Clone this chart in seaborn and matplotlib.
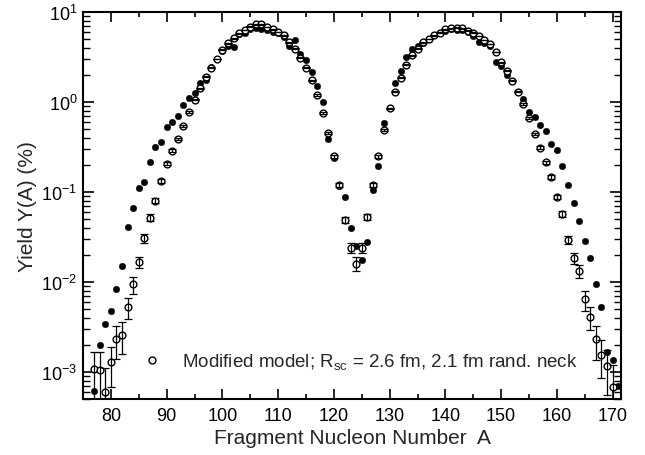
import numpy as np
import pandas as pd
import matplotlib
matplotlib.use("Agg")
import matplotlib.pyplot as plt
from matplotlib.ticker import MultipleLocator, LogLocator, NullFormatter
from matplotlib.lines import Line2D
import seaborn as sns

# Fragment mass numbers
mass_ref = list(range(77, 172))      # filled symbols
mass_mod = list(range(77, 171))      # open symbols (modified model)

# Yields in percent, filled symbols
yield_ref = [
    6.1e-4, 2.0e-3, 3.4e-3, 4.7e-3, 8.3e-3, 0.0151, 0.041, 0.066, 0.11, 0.128,
    0.217, 0.319, 0.362, 0.53, 0.60, 0.69, 0.93, 1.10, 1.25, 1.61,
    1.76, 2.43, 3.0, 3.7, 4.2, 4.1, 5.7, 5.9, 6.5, 6.7,
    6.5, 6.3, 6.0, 5.9, 5.3, 4.2, 4.9, 3.4, 2.9, 2.17,
    1.52, 1.0, 0.39, 0.24, 0.115, 0.089, 0.040, 0.025, 0.0176, 0.028,
    0.105, 0.196, 0.59, 0.85, 1.63, 2.2, 3.2, 3.9, 4.2, 4.5,
    5.0, 5.5, 5.9, 6.2, 6.4, 6.3, 6.3, 6.0, 5.4, 4.7,
    4.5, 4.2, 2.8, 2.5, 2.0, 1.72, 1.30, 1.08, 0.78, 0.68,
    0.55, 0.47, 0.34, 0.29, 0.196, 0.12, 0.076, 0.048, 0.0283, 0.0183,
    0.0095, 0.0052, 0.00166, 0.00137, 6.9e-4,
]

# Yields in percent, modified model (open symbols)
yield_mod = [
    1.08e-3, 1.06e-3, 6.0e-4, 1.28e-3, 2.3e-3, 2.6e-3, 5.3e-3, 9.4e-3, 0.0167, 0.0305,
    0.052, 0.080, 0.134, 0.207, 0.288, 0.388, 0.546, 0.77, 1.06, 1.42,
    1.91, 2.4, 3.0, 3.8, 4.5, 5.1, 5.8, 6.3, 6.9, 7.3,
    7.3, 6.8, 6.4, 6.0, 5.5, 4.6, 3.9, 3.1, 2.4, 1.75,
    1.2, 0.76, 0.45, 0.25, 0.12, 0.049, 0.024, 0.016, 0.024, 0.053,
    0.12, 0.25, 0.49, 0.85, 1.30, 1.85, 2.6, 3.3, 3.9, 4.6,
    5.0, 5.5, 5.9, 6.4, 6.6, 6.7, 6.6, 6.2, 5.9, 5.4,
    4.9, 4.4, 3.6, 2.76, 2.23, 1.72, 1.30, 0.95, 0.66, 0.44,
    0.31, 0.214, 0.146, 0.088, 0.057, 0.0295, 0.0183, 0.0132, 0.0064, 0.0041,
    0.0023, 0.00155, 0.00116, 0.00068,
]

# Statistical uncertainties of the modified model (percent)
err_mod = [
    6.0e-4, 6.0e-4, 5.0e-4, 6.0e-4, 9.0e-4, 1.0e-3, 1.4e-3, 2.0e-3, 2.4e-3, 3.2e-3,
    4.3e-3, 5.3e-3, 6.8e-3, 8.5e-3, 0.010, 0.0117, 0.0138, 0.0164, 0.019, 0.022,
    0.026, 0.029, 0.032, 0.036, 0.040, 0.042, 0.045, 0.047, 0.049, 0.050,
    0.050, 0.049, 0.047, 0.046, 0.044, 0.040, 0.037, 0.033, 0.029, 0.025,
    0.020, 0.0163, 0.0125, 9.4e-3, 6.5e-3, 4.1e-3, 2.9e-3, 2.7e-3, 2.9e-3, 4.3e-3,
    6.5e-3, 9.4e-3, 0.0131, 0.0172, 0.021, 0.025, 0.030, 0.034, 0.037, 0.040,
    0.042, 0.044, 0.045, 0.047, 0.048, 0.048, 0.048, 0.047, 0.045, 0.043,
    0.041, 0.039, 0.035, 0.031, 0.028, 0.0245, 0.021, 0.018, 0.015, 0.0124,
    0.0104, 8.7e-3, 7.1e-3, 5.5e-3, 4.5e-3, 3.2e-3, 2.5e-3, 2.2e-3, 1.6e-3, 1.15e-3,
    9.5e-4, 7.0e-4, 6.0e-4, 5.0e-4,
]

legend_label = r"Modified model; R$_{\mathregular{sc}}$ = 2.6 fm, 2.1 fm rand. neck"

sns.set_style("ticks")
plt.rcParams["font.family"] = ["Liberation Sans", "DejaVu Sans"]
plt.rcParams["mathtext.default"] = "regular"

df_ref = pd.DataFrame({"A": mass_ref, "Y": yield_ref})
df_mod = pd.DataFrame({"A": mass_mod, "Y": yield_mod, "err": err_mod})

fig = plt.figure(figsize=(6.45, 4.56), dpi=100)
ax = fig.add_axes([83 / 645, 1 - 400 / 456, (621 - 83) / 645, (400 - 13) / 456])

# filled symbols
sns.scatterplot(data=df_ref, x="A", y="Y", ax=ax, marker="o", s=22,
                color="black", edgecolor="black", linewidth=0.3, zorder=2,
                legend=False)
# open symbols with white interior
sns.scatterplot(data=df_mod, x="A", y="Y", ax=ax, marker="o", s=24,
                facecolor="white", edgecolor="black", linewidth=1.0, zorder=3,
                legend=False)
# error bars on the open symbols
ax.errorbar(df_mod["A"], df_mod["Y"], yerr=df_mod["err"], fmt="none",
            ecolor="black", elinewidth=0.9, capsize=3.0, capthick=0.9, zorder=4)

ax.set_yscale("log")
ax.set_xlim(75, 171.5)
ax.set_ylim(5e-4, 10)

ax.xaxis.set_major_locator(MultipleLocator(10))
ax.xaxis.set_minor_locator(MultipleLocator(5))
ax.yaxis.set_major_locator(LogLocator(base=10, numticks=10))
ax.yaxis.set_minor_locator(LogLocator(base=10, subs=np.arange(2, 10), numticks=20))
ax.yaxis.set_minor_formatter(NullFormatter())

ax.tick_params(which="both", direction="in", top=True, right=True,
               colors="black", labelsize=13)
ax.tick_params(axis="x", which="major", length=7, width=1.2, pad=6)
ax.tick_params(axis="x", which="minor", length=3.5, width=1.2)
ax.tick_params(axis="y", which="major", length=8, width=1.2, pad=4)
ax.tick_params(axis="y", which="minor", length=5, width=1.0)

for sp in ax.spines.values():
    sp.set_linewidth(1.5)
    sp.set_color("black")

ax.set_xlabel("Fragment Nucleon Number  A", fontsize=15, labelpad=3)
ax.set_ylabel("Yield Y(A) (%)", fontsize=15, labelpad=3)

handle = Line2D([], [], linestyle="none", marker="o", markersize=5.0,
                markerfacecolor="white", markeredgecolor="black",
                markeredgewidth=1.0)
ax.legend([handle], [legend_label], loc="center left",
          bbox_to_anchor=(0.111, 0.098), frameon=False, fontsize=13.5,
          handletextpad=1.1, handlelength=1.0, borderpad=0, borderaxespad=0)

fig.savefig("out.png", dpi=100)
